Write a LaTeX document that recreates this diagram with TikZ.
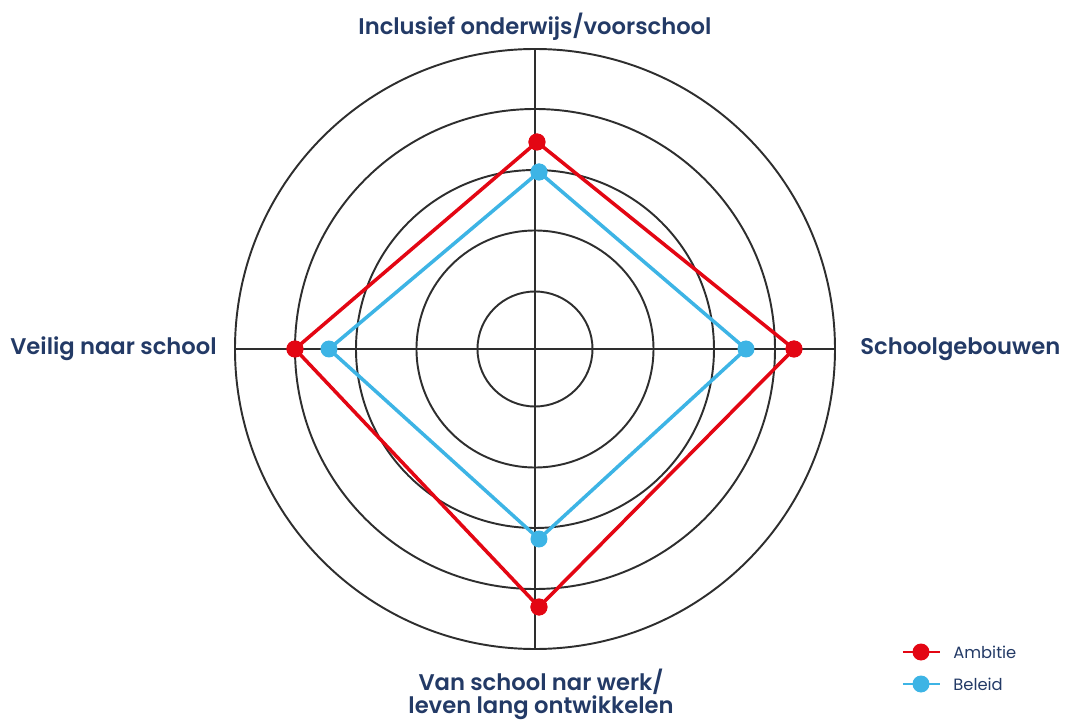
\documentclass[tikz,border=0pt]{standalone}
\usepackage{fontspec}
\IfFontExistsTF{Poppins SemiBold}
    {\setmainfont{Poppins}[BoldFont={Poppins SemiBold}]}
    {\setmainfont{Poppins}}
\usepackage{xcolor}
\usepackage{tikz}
\usetikzlibrary{calc,positioning}

\definecolor{ambred}{HTML}{E30613}
\definecolor{belblue}{HTML}{3DB4E5}
\definecolor{navy}{HTML}{233A66}
\definecolor{gridgray}{HTML}{2E2E2E}

\tikzset{
    ring/.style={gridgray, line width=1.1pt},
    axislabel/.style={navy, font=\bfseries\fontsize{12.9}{15}\selectfont, inner sep=0pt},
    legtext/.style={navy, font=\fontsize{9.3}{11}\selectfont, inner sep=0pt, anchor=west},
    ambline/.style={ambred, line width=2pt, line join=round},
    belline/.style={belblue, line width=2pt, line join=round},
    ambdot/.style={circle, fill=ambred, minimum size=0.34cm, inner sep=0pt},
    beldot/.style={circle, fill=belblue, minimum size=0.34cm, inner sep=0pt}
}

\begin{document}
\begin{tikzpicture}
    % Canvas
    \useasboundingbox (-10.70,-7.42) rectangle (10.62,6.98);

    % Rings and axes
    \foreach \r in {1.15,2.37,3.58,4.80,6.00}
        \draw[ring] (0,0) circle (\r);
    \coordinate (n) at (0,6);
    \coordinate (s) at (0,-6);
    \coordinate (w) at (-6,0);
    \coordinate (e) at (6,0);
    \draw[ring] (n) -- (s);
    \draw[ring] (w) -- (e);

    % Beleid
    \node[beldot] (b1) at (0.08,3.54) {};
    \node[beldot] (b2) at (4.22,0) {};
    \node[beldot] (b3) at (0.08,-3.80) {};
    \node[beldot] (b4) at (-4.12,0) {};
    \draw[belline] (b1.center) -- (b2.center) -- (b3.center) -- (b4.center) -- cycle;

    % Ambitie
    \node[ambdot] (a1) at (0.04,4.14) {};
    \node[ambdot] (a2) at (5.18,0) {};
    \node[ambdot] (a3) at (0.08,-5.16) {};
    \node[ambdot] (a4) at (-4.80,0) {};
    \draw[ambline] (a1.center) -- (a2.center) -- (a3.center) -- (a4.center) -- cycle;
    \node[beldot] at (b1) {};
    \node[ambdot] at (a1) {};
    \node[ambdot] at (a2) {};
    \node[ambdot] at (a3) {};
    \node[ambdot] at (a4) {};

    % Axis labels
    \node[axislabel] (top) at (0,6.44) {Inclusief onderwijs/voorschool};
    \node[axislabel, anchor=east] (left) at (-6.36,0) {Veilig naar school};
    \node[axislabel, anchor=west] (right) at (6.50,0) {Schoolgebouwen};
    \node[axislabel] (bot1) at (0.12,-6.66) {Van school nar werk/};
    \node[axislabel] (bot2) at (0.12,-7.17) {leven lang ontwikkelen};

    % Legend
    \coordinate (la1) at (7.36,-6.06);
    \coordinate (la2) at (8.10,-6.06);
    \draw[ambred, line width=1.2pt] (la1) -- (la2);
    \node[ambdot] (lad) at (7.72,-6.06) {};
    \node[legtext] (lat) at (8.36,-6.06) {Ambitie};

    \coordinate (lb1) at (7.36,-6.70);
    \coordinate (lb2) at (8.10,-6.70);
    \draw[belblue, line width=1.2pt] (lb1) -- (lb2);
    \node[beldot] (lbd) at (7.72,-6.70) {};
    \node[legtext] (lbt) at (8.36,-6.70) {Beleid};
\end{tikzpicture}
\end{document}
